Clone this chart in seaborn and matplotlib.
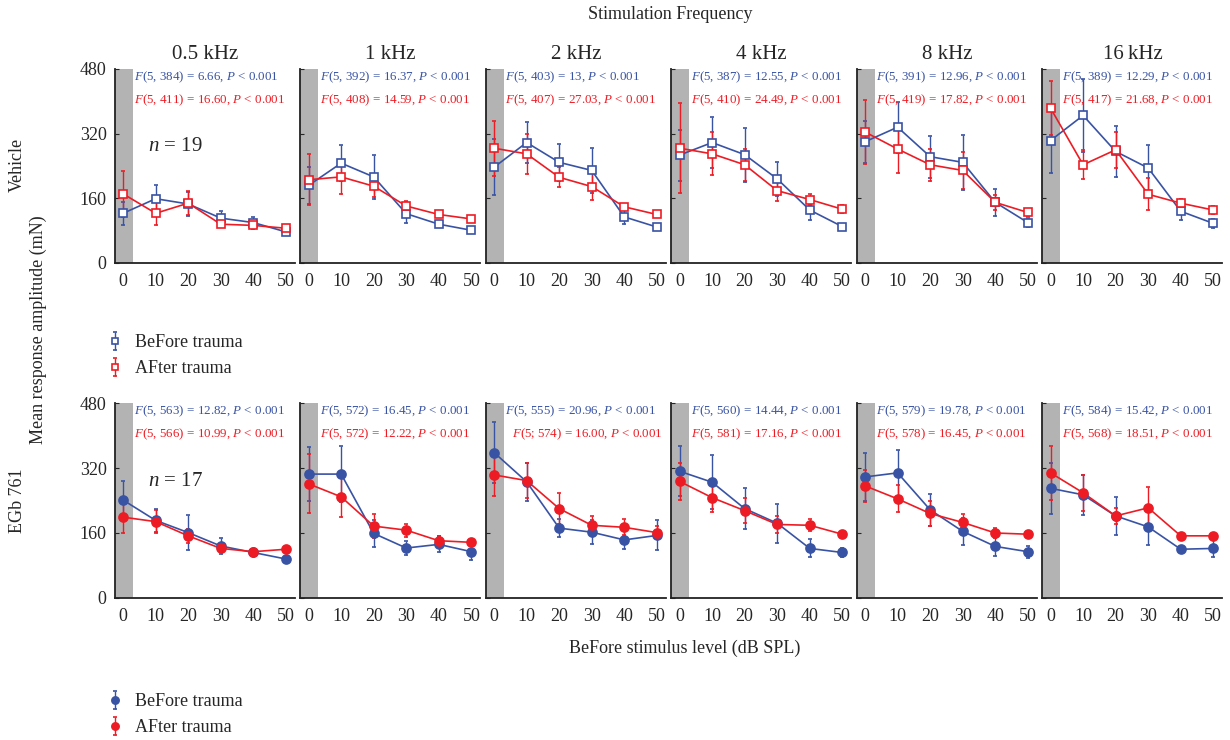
import numpy as np
import pandas as pd
import matplotlib
matplotlib.use("Agg")
import matplotlib.pyplot as plt
import seaborn as sns

# ---- data ----
levels = [0, 10, 20, 30, 40, 50]
freqs = ["0.5 kHz", "1 kHz", "2 kHz", "4 kHz", "8 kHz", "16\u2009kHz"]

veh_before = [[123, 159, 146, 111, 100, 77],
              [192, 247, 213, 122, 96, 81],
              [237, 298, 249, 229, 114, 89],
              [267, 298, 268, 208, 131, 90],
              [300, 336, 263, 249, 150, 100],
              [303, 365, 276, 235, 128, 98]]
veh_before_err = [[28, 33, 30, 17, 15, 5],
                  [45, 45, 54, 23, 5, 4],
                  [70, 50, 45, 56, 17, 5],
                  [63, 64, 67, 42, 24, 4],
                  [52, 63, 52, 68, 34, 12],
                  [80, 90, 64, 56, 22, 12]]
veh_after = [[171, 123, 148, 96, 93, 86],
             [206, 213, 190, 141, 120, 109],
             [284, 270, 212, 189, 139, 120],
             [284, 270, 243, 179, 157, 133],
             [324, 282, 243, 229, 150, 125],
             [383, 243, 280, 170, 148, 131]]
veh_after_err = [[57, 30, 30, 6, 7, 5],
                 [63, 43, 27, 12, 6, 6],
                 [68, 50, 25, 33, 8, 6],
                 [111, 53, 40, 25, 14, 10],
                 [79, 59, 40, 45, 18, 8],
                 [66, 36, 45, 40, 10, 10]]

egb_before = [[241, 191, 161, 128, 112, 96],
              [305, 305, 159, 123, 132, 114],
              [358, 286, 172, 162, 143, 154],
              [312, 285, 220, 184, 122, 112],
              [298, 308, 217, 164, 127, 114],
              [270, 254, 202, 175, 120, 122]]
egb_before_err = [[47, 29, 43, 20, 8, 4],
                  [66, 68, 33, 18, 20, 20],
                  [75, 47, 23, 30, 22, 37],
                  [62, 66, 51, 48, 22, 10],
                  [60, 56, 40, 34, 23, 15],
                  [63, 50, 46, 45, 7, 22]]
egb_after = [[199, 188, 153, 122, 114, 120],
             [281, 249, 177, 167, 141, 137],
             [303, 289, 220, 179, 174, 161],
             [287, 247, 215, 181, 179, 157],
             [276, 244, 208, 186, 160, 157],
             [308, 259, 202, 222, 153, 153]]
egb_after_err = [[38, 29, 18, 10, 5, 4],
                 [73, 50, 30, 16, 12, 4],
                 [52, 43, 38, 24, 20, 15],
                 [45, 35, 30, 22, 15, 4],
                 [40, 33, 31, 20, 13, 8],
                 [66, 44, 20, 52, 3, 3]]

veh_before_stats = ["(5, 384) = 6.66", "(5, 392) = 16.37", "(5, 403) = 13",
                    "(5, 387) = 12.55", "(5, 391) = 12.96", "(5, 389) = 12.29"]
veh_after_stats = ["(5, 411) = 16.60", "(5, 408) = 14.59", "(5, 407) = 27.03",
                   "(5, 410) = 24.49", "(5, 419) = 17.82", "(5, 417) = 21.68"]
egb_before_stats = ["(5, 563) = 12.82", "(5, 572) = 16.45", "(5, 555) = 20.96",
                    "(5, 560) = 14.44", "(5, 579) = 19.78", "(5, 584) = 15.42"]
egb_after_stats = ["(5, 566) = 10.99", "(5, 572) = 12.22", "(5; 574) = 16.00",
                   "(5, 581) = 17.16", "(5, 578) = 16.45", "(5, 568) = 18.51"]

row_names = ["Vehicle", "EGb 761"]
group_n = [19, 17]
phase_labels = ["BeFore trauma", "AFter trauma"]

BLUE = "#3953a4"
RED = "#ed1c24"

sns.set_style("ticks")
plt.rcParams["font.family"] = ["Liberation Serif", "DejaVu Serif"]
plt.rcParams["mathtext.fontset"] = "custom"
plt.rcParams["mathtext.rm"] = "Liberation Serif"
plt.rcParams["mathtext.it"] = "Liberation Serif:italic"

fig = plt.figure(figsize=(12.3, 7.4), dpi=100)

rows = [
    dict(before=veh_before, before_err=veh_before_err, after=veh_after, after_err=veh_after_err,
         bs=veh_before_stats, as_=veh_after_stats, marker="s", filled=False,
         bottom=0.6446, height=0.2622),
    dict(before=egb_before, before_err=egb_before_err, after=egb_after, after_err=egb_after_err,
         bs=egb_before_stats, as_=egb_after_stats, marker="o", filled=True,
         bottom=0.1919, height=0.2635),
]

legend_handles = []
for r, row in enumerate(rows):
    handles = []
    for c in range(6):
        ax = fig.add_axes([0.0935 + c * 0.1508, row["bottom"], 0.1463, row["height"]])
        ax.axvspan(-2.5, 3, color="#b3b3b3", lw=0, zorder=0)
        for vals, errs, color in [(row["before"][c], row["before_err"][c], BLUE),
                                  (row["after"][c], row["after_err"][c], RED)]:
            df = pd.DataFrame({"level": levels, "amp": vals})
            sns.lineplot(data=df, x="level", y="amp", color=color, lw=1.2, ax=ax, zorder=2)
            cont = ax.errorbar(levels, vals, yerr=errs, fmt=row["marker"], ls="none",
                               color=color, ecolor=color, elinewidth=1.0, capsize=1.5,
                               capthick=1.0, ms=6.5 if row["filled"] else 6,
                               mfc=color if row["filled"] else "white", mec=color,
                               mew=1.2, zorder=3)
            if c == 0:
                handles.append(cont)
        ax.set_xlim(-2.5, 52.8)
        ax.set_ylim(0, 480)
        ax.set_xticks(levels)
        ax.set_yticks([0, 160, 320, 480])
        ax.set_xlabel("")
        ax.set_ylabel("")
        ax.tick_params(axis="x", length=0, labelsize=13, pad=7)
        ax.tick_params(axis="y", direction="in", length=3, labelsize=13, pad=6)
        if c > 0:
            ax.set_yticklabels([])
        for side in ["top", "right"]:
            ax.spines[side].set_visible(False)
        for side in ["left", "bottom"]:
            ax.spines[side].set_linewidth(1.3)
            ax.spines[side].set_color("#222222")
        if r == 0:
            ax.set_title(freqs[c], fontsize=15, pad=7)
        x_red = 5.6 if (r == 1 and c == 2) else 3.4
        ax.text(3.4, 459, r"$F$" + row["bs"][c] + r", $P$ < 0.001", color=BLUE,
                fontsize=9.4, va="center", ha="left")
        ax.text(x_red, 402, r"$F$" + row["as_"][c] + r", $P$ < 0.001", color=RED,
                fontsize=9.4, va="center", ha="left")
        if c == 0:
            ax.text(16, 288, r"$n$ = %d" % group_n[r], fontsize=15, ha="center", va="center")
    legend_handles.append(handles)

fig.text(0.545, 0.981, "Stimulation Frequency", ha="center", va="center", fontsize=13)
fig.text(0.557, 0.124, "BeFore stimulus level (dB SPL)", ha="center", va="center", fontsize=13)
fig.text(0.031, 0.554, "Mean response amplitude (mN)", rotation=90, ha="center",
         va="center", fontsize=13)
fig.text(0.014, 0.777, row_names[0], rotation=90, ha="center", va="center", fontsize=13)
fig.text(0.014, 0.324, row_names[1], rotation=90, ha="center", va="center", fontsize=13)

fig.legend(legend_handles[0], phase_labels, loc="upper left", bbox_to_anchor=(0.082, 0.558),
           frameon=False, fontsize=13, handlelength=0.8, handletextpad=0.7,
           labelspacing=0.5, markerscale=0.8, borderaxespad=0)
fig.legend(legend_handles[1], phase_labels, loc="upper left", bbox_to_anchor=(0.082, 0.073),
           frameon=False, fontsize=13, handlelength=0.8, handletextpad=0.7,
           labelspacing=0.5, markerscale=0.8, borderaxespad=0)

fig.savefig("out.png", dpi=100)
